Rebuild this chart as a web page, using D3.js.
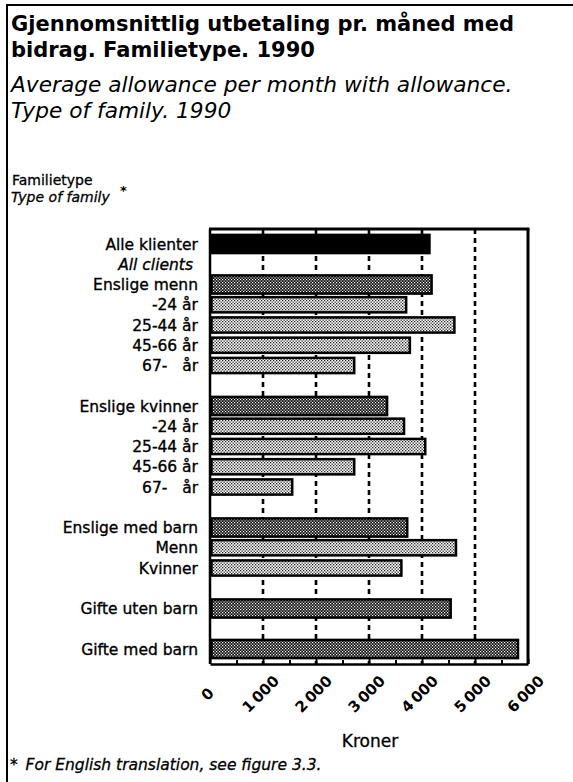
<!DOCTYPE html>
<html>
<head>
<meta charset="utf-8">
<script src="https://cdn.jsdelivr.net/npm/d3@7"></script>
<style>
	body{margin:0;background:#fff;}
	svg{display:block;font-family:"DejaVu Sans", sans-serif;}
</style>
</head>
<body>
<div class="chart"></div>
<script>

//data
const groupNames = ['Alle klienter','Enslige menn','Enslige kvinner','Enslige med barn','Gifte uten barn','Gifte med barn'];
const groupValues = [4160, 4200, 3360, 3740, 4560, 5830];
const subNames = [
	[],
	['-24 år','25-44 år','45-66 år','67-\u00a0\u00a0\u00a0år'],
	['-24 år','25-44 år','45-66 år','67-\u00a0\u00a0\u00a0år'],
	['Menn','Kvinner'],
	[],
	[]
];
const subValues = [
	[],
	[3720, 4630, 3790, 2740],
	[3680, 4080, 2740, 1570],
	[4660, 3630],
	[],
	[]
];
const xTicks = [0,1000,2000,3000,4000,5000,6000];
const xMinorTicks = [500,1500,2500,3500,4500,5500];

const W = 573;
const H = 782;
const plot = {l:210, r:528, t:229, b:664};

//flatten the groups into rows, a blank row after every group
const rows = [];
const domain = [];
groupNames.forEach((name, g) => {
	rows.push({id:`${g}-0`, label:name, value:groupValues[g], kind: g === 0 ? 'all' : 'group'});
	domain.push(`${g}-0`);
	subNames[g].forEach((s, i) => {
		rows.push({id:`${g}-${i+1}`, label:s, value:subValues[g][i], kind:'sub'});
		domain.push(`${g}-${i+1}`);
	});
	if(g < groupNames.length - 1) domain.push(`gap${g}`);
});

const svg = d3.select('.chart').append('svg')
	.attr('width', W)
	.attr('height', H);

//fill patterns
const defs = svg.append('defs');
const dark = defs.append('pattern')
	.attr('id','dark')
	.attr('width',3).attr('height',3)
	.attr('patternUnits','userSpaceOnUse');
dark.append('rect').attr('width',3).attr('height',3).attr('fill','#111');
dark.append('rect').attr('x',0).attr('y',0).attr('width',1.2).attr('height',1.2).attr('fill','#fff');
dark.append('rect').attr('x',1.5).attr('y',1.5).attr('width',1.2).attr('height',1.2).attr('fill','#fff');

const light = defs.append('pattern')
	.attr('id','light')
	.attr('width',3).attr('height',3)
	.attr('patternUnits','userSpaceOnUse');
light.append('rect').attr('width',3).attr('height',3).attr('fill','#fff');
light.append('rect').attr('x',0).attr('y',0).attr('width',1.3).attr('height',1.3).attr('fill','#222');
light.append('rect').attr('x',1.5).attr('y',1.5).attr('width',1.3).attr('height',1.3).attr('fill','#222');

//page border
svg.append('line')
	.attr('x1',7).attr('x2',7).attr('y1',4).attr('y2',H)
	.attr('stroke','#000').attr('stroke-width',2);
svg.append('line')
	.attr('x1',6).attr('x2',W).attr('y1',5).attr('y2',5)
	.attr('stroke','#000').attr('stroke-width',2);

//titles
const title = svg.append('g').attr('class','titles');
title.append('text')
	.attr('x',11).attr('y',31)
	.style('font-size','21px').style('font-weight','bold')
	.text('Gjennomsnittlig utbetaling pr. måned med');
title.append('text')
	.attr('x',11).attr('y',57)
	.style('font-size','21px').style('font-weight','bold')
	.text('bidrag. Familietype. 1990');
title.append('text')
	.attr('x',11).attr('y',92)
	.style('font-size','21.7px').style('font-style','italic')
	.text('Average allowance per month with allowance.');
title.append('text')
	.attr('x',11).attr('y',118)
	.style('font-size','21.7px').style('font-style','italic')
	.text('Type of family. 1990');

title.append('text')
	.attr('x',12).attr('y',185)
	.style('font-size','14px')
	.attr('stroke','#000').attr('stroke-width',0.3)
	.text('Familietype');
title.append('text')
	.attr('x',11).attr('y',202)
	.style('font-size','14px').style('font-style','italic')
	.attr('stroke','#000').attr('stroke-width',0.3)
	.text('Type of family');
title.append('text')
	.attr('x',120).attr('y',195)
	.style('font-size','13px').style('font-weight','bold')
	.text('*');

//scales
const scaleX = d3.scaleLinear()
	.domain([0,6000])
	.range([plot.l, plot.r]);
const scaleY = d3.scaleBand()
	.domain(domain)
	.range([plot.t, plot.b])
	.paddingInner(0.2)
	.paddingOuter(0.34);

//dashed grid
svg.append('g').attr('class','grid')
	.selectAll('line')
	.data(xTicks.filter(d => d > 0 && d < 6000))
	.join('line')
	.attr('x1', d => scaleX(d)).attr('x2', d => scaleX(d))
	.attr('y1', plot.t).attr('y2', plot.b)
	.attr('stroke','#000')
	.attr('stroke-width',2.6)
	.attr('stroke-dasharray','5,4');

//bars
const barH = d => d.kind === 'sub' ? scaleY.bandwidth() - 1 : scaleY.bandwidth() + 2;
svg.append('g').attr('class','bars')
	.selectAll('rect')
	.data(rows)
	.join('rect')
	.attr('x', scaleX(0) + 1.5)
	.attr('y', d => scaleY(d.id) + scaleY.bandwidth()/2 - barH(d)/2)
	.attr('width', d => scaleX(d.value) - scaleX(0) - 2.5)
	.attr('height', d => barH(d))
	.attr('fill', d => d.kind === 'all' ? '#000' : d.kind === 'group' ? 'url(#dark)' : 'url(#light)')
	.attr('stroke','#000')
	.attr('stroke-width',2.5);

//row labels
const labels = svg.append('g').attr('class','labels')
	.style('font-size','15.5px')
	.attr('text-anchor','end')
	.attr('stroke','#000')
	.attr('stroke-width',0.35);
labels.selectAll('text')
	.data(rows)
	.join('text')
	.attr('x', 198)
	.attr('y', d => scaleY(d.id) + scaleY.bandwidth()/2)
	.attr('dy','0.36em')
	.text(d => d.label);
labels.append('text')
	.attr('x', 193)
	.attr('y', scaleY('gap0') + scaleY.bandwidth()/2)
	.attr('dy','0.36em')
	.style('font-style','italic')
	.text('All clients');

//frame
const frame = svg.append('g').attr('class','frame')
	.attr('stroke','#000').attr('fill','none');
frame.append('line')
	.attr('x1',plot.l - 1).attr('x2',plot.r + 1.5).attr('y1',plot.t).attr('y2',plot.t)
	.attr('stroke-width',3);
frame.append('line')
	.attr('x1',plot.l).attr('x2',plot.l).attr('y1',plot.t).attr('y2',plot.b)
	.attr('stroke-width',2.5);
frame.append('line')
	.attr('x1',plot.r).attr('x2',plot.r).attr('y1',plot.t).attr('y2',plot.b)
	.attr('stroke-width',3);

//axis: minor ticks, then major ticks with rotated labels
const axisMinor = d3.axisBottom(scaleX)
	.tickValues(xMinorTicks)
	.tickSizeInner(-4)
	.tickSizeOuter(0)
	.tickFormat('');
const axisMajor = d3.axisBottom(scaleX)
	.tickValues(xTicks)
	.tickSizeInner(-5)
	.tickSizeOuter(0)
	.tickFormat(d => d3.format(',')(d).replace(',', '\u2009'));

svg.append('g')
	.attr('transform', `translate(0,${plot.b})`)
	.call(axisMinor)
	.call(g => g.select('.domain').remove())
	.call(g => g.selectAll('line').attr('stroke-width',2));

const axisG = svg.append('g')
	.attr('transform', `translate(0,${plot.b})`)
	.call(axisMajor);
axisG.select('.domain')
	.attr('stroke-width',2.5);
axisG.selectAll('line').attr('stroke-width',2);
axisG.selectAll('text')
	.attr('y',0)
	.attr('dy','0.35em')
	.attr('text-anchor','middle')
	.attr('transform','translate(-3,30) rotate(-45)')
	.style('font-family','"DejaVu Sans", sans-serif')
	.style('font-size','15px')
	.style('font-weight','bold')
	.attr('fill','#000');

svg.append('text')
	.attr('x', 370).attr('y', 747)
	.attr('text-anchor','middle')
	.style('font-size','17px')
	.attr('stroke','#000').attr('stroke-width',0.3)
	.text('Kroner');

//footnote
svg.append('text')
	.attr('x', 10).attr('y', 770)
	.style('font-size','15.5px')
	.style('font-style','italic')
	.attr('stroke','#000').attr('stroke-width',0.3)
	.text('*\u2002For English translation, see figure 3.3.');

</script>
</body>
</html>
